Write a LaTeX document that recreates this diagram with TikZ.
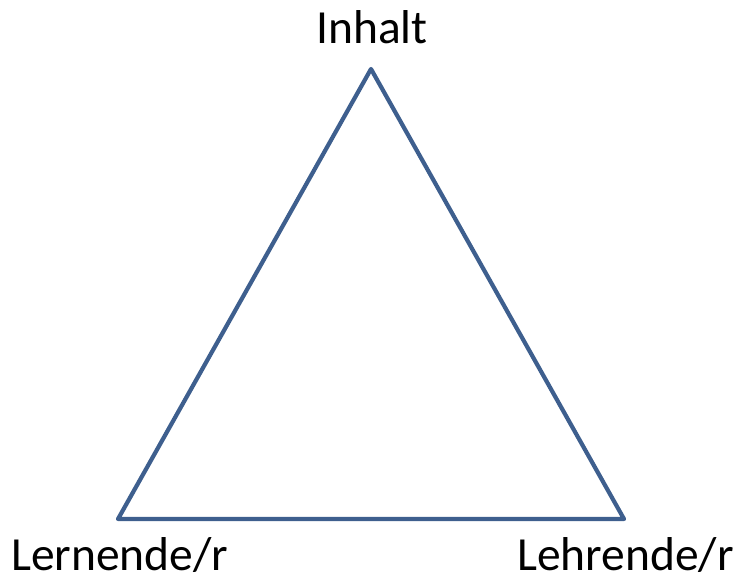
\documentclass[tikz,border=0pt]{standalone}
\usepackage{fontspec}
\setmainfont{Carlito}
\usetikzlibrary{positioning}
\definecolor{edgeblue}{HTML}{3E5F8E}

\begin{document}
\begin{tikzpicture}[x=1pt, y=-1pt,
    label/.style={font=\fontsize{47.5}{57}\selectfont, inner sep=0pt},
    side/.style={draw=edgeblue, line width=4.2pt, line join=round}]
    \useasboundingbox (0,0) rectangle (736,582);

    \coordinate (top) at (371,69);
    \coordinate (left) at (118,519);
    \coordinate (right) at (624,519);

    \node[label, anchor=base] (inhalt) at (372,43) {Inhalt};
    \node[label, anchor=base west] (lernende) at (11,570) {Lernende/r};
    \node[label, anchor=base east] (lehrende) at (734,570) {Lehrende/r};

    \draw[side] (top) -- (right) -- (left) -- cycle;
  \end{tikzpicture}
\end{document}
